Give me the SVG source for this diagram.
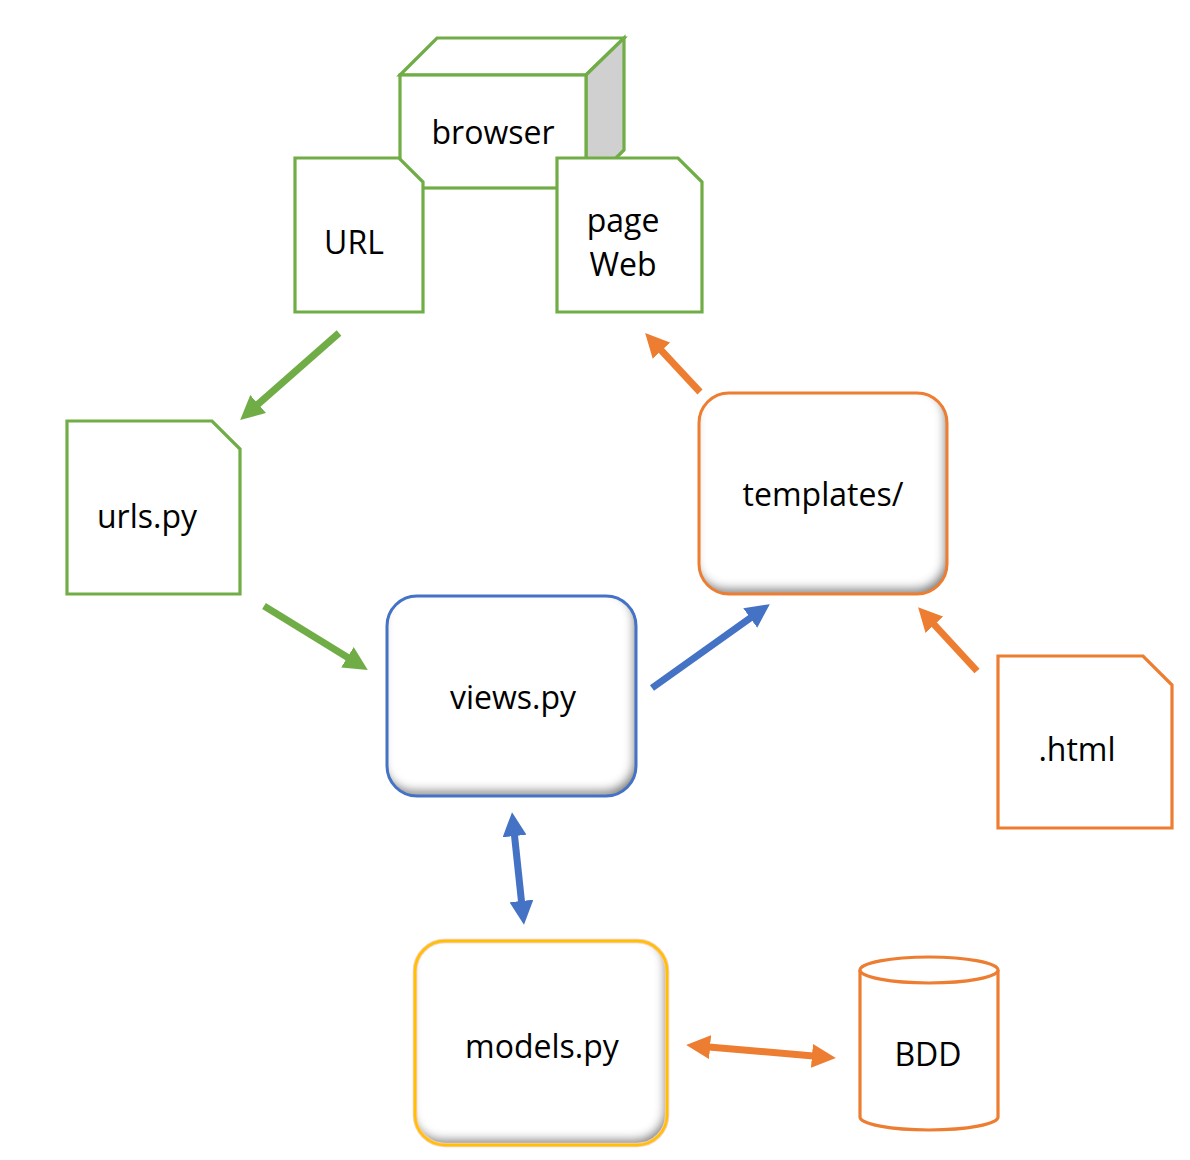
<svg xmlns="http://www.w3.org/2000/svg" width="1190" height="1160" viewBox="0 0 1190 1160">
<defs>
<style>
.t{font-family:"Open Sans","Noto Sans","Liberation Sans",sans-serif;font-size:32px;fill:#000;text-anchor:middle}
.g{fill:#fff;stroke:#70ad47;stroke-width:3.2}
.o{fill:#fff;stroke:#ed7d31;stroke-width:3.2}
.gl{stroke:#70ad47;stroke-width:7;fill:none}
.bl{stroke:#4472c4;stroke-width:7;fill:none}
.ol{stroke:#ed7d31;stroke-width:7;fill:none}
</style>
<filter id="bevel" x="-5%" y="-5%" width="110%" height="110%">
<feFlood flood-color="#000" flood-opacity="0.8" result="f"/>
<feComposite in="f" in2="SourceAlpha" operator="out" result="outside"/>
<feGaussianBlur in="outside" stdDeviation="5" result="blur"/>
<feOffset in="blur" dx="-3" dy="-6" result="off"/>
<feComposite in="off" in2="SourceAlpha" operator="in" result="shadow"/>
<feMerge><feMergeNode in="SourceGraphic"/><feMergeNode in="shadow"/></feMerge>
</filter>
<marker id="ag" viewBox="0 0 10 10" refX="3" refY="5" markerUnits="userSpaceOnUse" markerWidth="24" markerHeight="24" orient="auto-start-reverse"><path d="M0,0 L10,5 L0,10 z" fill="#70ad47"/></marker>
<marker id="ab" viewBox="0 0 10 10" refX="3" refY="5" markerUnits="userSpaceOnUse" markerWidth="24" markerHeight="24" orient="auto-start-reverse"><path d="M0,0 L10,5 L0,10 z" fill="#4472c4"/></marker>
<marker id="ao" viewBox="0 0 10 10" refX="3" refY="5" markerUnits="userSpaceOnUse" markerWidth="24" markerHeight="24" orient="auto-start-reverse"><path d="M0,0 L10,5 L0,10 z" fill="#ed7d31"/></marker>
</defs>
<rect width="1190" height="1160" fill="#fff"/>

<g id="browser">
<polygon class="g" points="400,75 437,38 624,38 586,75"/>
<polygon points="586,75 624,38 624,150 586,188" fill="#d0d0d0" stroke="#70ad47" stroke-width="3.2"/>
<rect class="g" x="400" y="75" width="186" height="113"/>
<text class="t" x="493" y="144">browser</text>
</g>

<g id="url">
<polygon class="g" points="295,158 399,158 423,182 423,312 295,312"/>
<text class="t" x="354" y="254">URL</text>
</g>

<g id="pageweb">
<polygon class="g" points="557,158 678,158 702,182 702,312 557,312"/>
<text class="t" x="623" y="232">page</text>
<text class="t" x="623" y="276">Web</text>
</g>

<g id="urls">
<polygon class="g" points="67,421 212,421 240,449 240,594 67,594"/>
<text class="t" x="147" y="528">urls.py</text>
</g>

<g id="views">
<rect x="387" y="596" width="249" height="200" rx="30" fill="#fff" filter="url(#bevel)"/>
<rect x="387" y="596" width="249" height="200" rx="30" fill="none" stroke="#4472c4" stroke-width="3"/>
<text class="t" x="513" y="709">views.py</text>
</g>

<g id="templates">
<rect x="699" y="393" width="248" height="201" rx="30" fill="#fff" filter="url(#bevel)"/>
<rect x="699" y="393" width="248" height="201" rx="30" fill="none" stroke="#ed7d31" stroke-width="3"/>
<text class="t" x="823" y="506">templates/</text>
</g>

<g id="html">
<polygon class="o" points="998,656 1143,656 1172,685 1172,828 998,828"/>
<text class="t" x="1077" y="761">.html</text>
</g>

<g id="models">
<rect x="415" y="941" width="252" height="204" rx="30" fill="#fff" filter="url(#bevel)"/>
<rect x="415" y="941" width="252" height="204" rx="30" fill="none" stroke="#f8cbad" stroke-width="4.5"/>
<rect x="415" y="941" width="252" height="204" rx="30" fill="none" stroke="#ffc000" stroke-width="2.5"/>
<text class="t" x="542" y="1058">models.py</text>
</g>

<g id="bdd">
<path class="o" d="M860,970 L860,1117 A69,13 0 0 0 998,1117 L998,970"/>
<ellipse class="o" cx="929" cy="970" rx="69" ry="13"/>
<text class="t" x="928" y="1066">BDD</text>
</g>

<g id="connectors">
<line class="gl" x1="339" y1="333" x2="252.8" y2="408.8" marker-end="url(#ag)"/>
<line class="gl" x1="264" y1="606" x2="353.5" y2="661.1" marker-end="url(#ag)"/>
<line class="bl" x1="652" y1="688" x2="756.1" y2="613.9" marker-end="url(#ab)"/>
<line class="bl" x1="513.8" y1="828.9" x2="522.2" y2="908.1" marker-start="url(#ab)" marker-end="url(#ab)"/>
<line class="ol" x1="977" y1="671" x2="929.5" y2="619.5" marker-end="url(#ao)"/>
<line class="ol" x1="700" y1="392" x2="656.6" y2="345.4" marker-end="url(#ao)"/>
<line class="ol" x1="702.9" y1="1046.5" x2="819.1" y2="1056.5" marker-start="url(#ao)" marker-end="url(#ao)"/>
</g>
</svg>
